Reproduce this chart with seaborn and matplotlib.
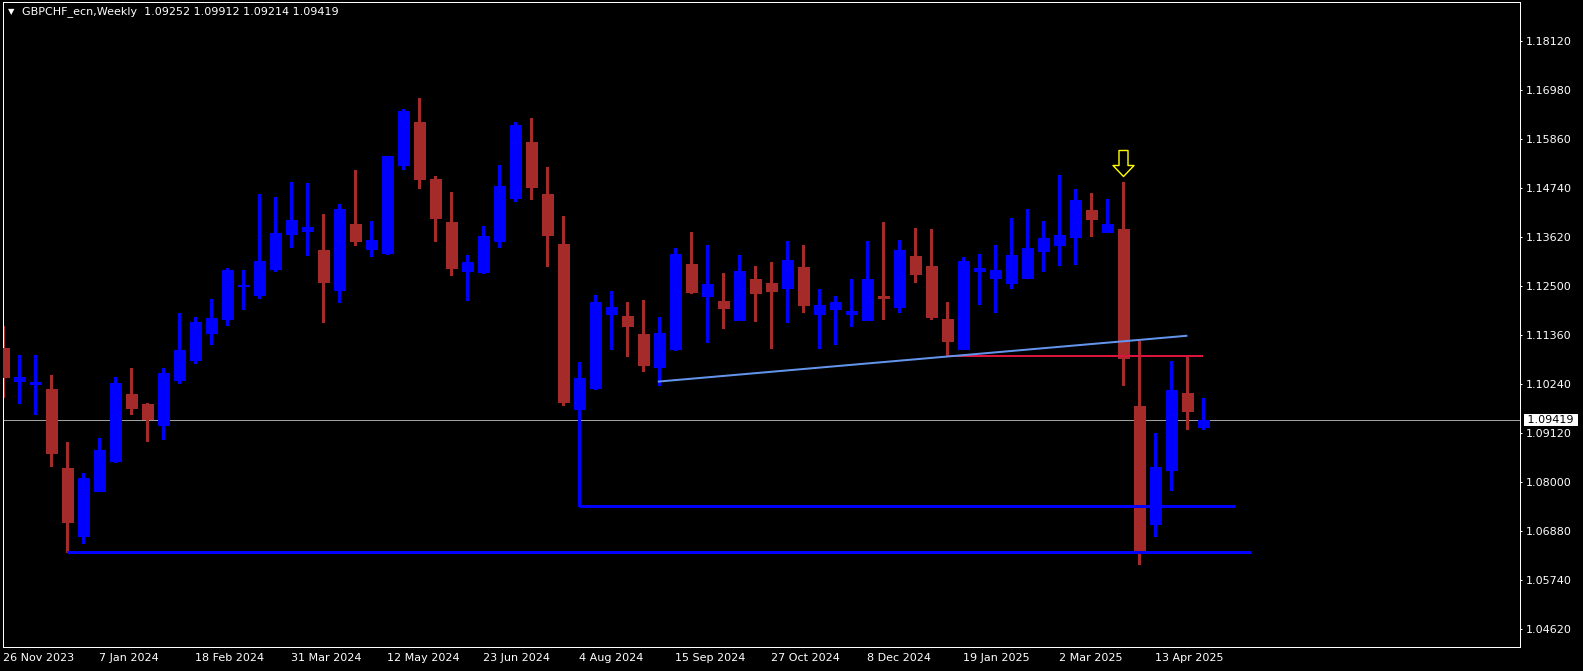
import matplotlib
matplotlib.use('Agg')
import matplotlib.pyplot as plt
from matplotlib.path import Path
import seaborn as sns

# weekly GBPCHF candles, 26 Nov 2023 .. 4 May 2025
symbol = 'GBPCHF_ecn,Weekly'
opens = [1.11070, 1.10320, 1.10251, 1.10130, 1.08317, 1.06764, 1.07790, 1.08478, 1.10015, 1.09786,
         1.09304, 1.10343, 1.10802, 1.11414, 1.11735, 1.12504, 1.12286, 1.12883, 1.13685, 1.13754,
         1.13318, 1.12401, 1.13915, 1.13341, 1.13250, 1.15268, 1.16255, 1.14947, 1.13961, 1.12837,
         1.12814, 1.13525, 1.14518, 1.15796, 1.14603, 1.13456, 1.09671, 1.10153, 1.11850, 1.11804,
         1.11391, 1.10634, 1.11047, 1.12997, 1.12263, 1.12149, 1.11713, 1.12653, 1.12561, 1.12447,
         1.12928, 1.11850, 1.11965, 1.11850, 1.11713, 1.12263, 1.12011, 1.13181, 1.12951, 1.11735,
         1.11047, 1.12837, 1.12676, 1.12561, 1.12676, 1.13296, 1.13433, 1.13617, 1.14236, 1.13731,
         1.13800, 1.09740, 1.07040, 1.08278, 1.10038, 1.09252]
highs = [1.11575, 1.10910, 1.10910, 1.10451, 1.08907, 1.08203, 1.09006, 1.10405, 1.10611, 1.09809,
         1.10611, 1.11873, 1.11781, 1.12194, 1.12905, 1.12860, 1.14603, 1.14534, 1.14878, 1.14855,
         1.14144, 1.14374, 1.15154, 1.13984, 1.15480, 1.16553, 1.16806, 1.15016, 1.14649, 1.13204,
         1.13869, 1.15268, 1.16255, 1.16347, 1.15223, 1.14098, 1.10749, 1.12286, 1.12378, 1.12126,
         1.12171, 1.11781, 1.13364, 1.13731, 1.13433, 1.12791, 1.13204, 1.12951, 1.13043, 1.13525,
         1.13433, 1.12424, 1.12263, 1.12653, 1.13525, 1.13961, 1.13548, 1.13823, 1.13800, 1.12126,
         1.13158, 1.13227, 1.13433, 1.14053, 1.14259, 1.13984, 1.15039, 1.14718, 1.14626, 1.14488,
         1.14878, 1.11231, 1.09120, 1.10772, 1.10887, 1.09912]
lows = [1.09953, 1.09815, 1.09563, 1.08370, 1.06383, 1.06597, 1.07780, 1.08455, 1.09563, 1.08944,
        1.08990, 1.10267, 1.10733, 1.11169, 1.11598, 1.11965, 1.12217, 1.12837, 1.13387, 1.13204,
        1.11667, 1.12126, 1.13433, 1.13181, 1.13227, 1.15177, 1.14741, 1.13525, 1.12745, 1.12171,
        1.12791, 1.13387, 1.14449, 1.14488, 1.12951, 1.09763, 1.07439, 1.10130, 1.11047, 1.10887,
        1.10543, 1.10221, 1.11024, 1.12332, 1.11208, 1.11529, 1.11705, 1.11690, 1.11070, 1.11667,
        1.11896, 1.11070, 1.11162, 1.11575, 1.11705, 1.11735, 1.11896, 1.12584, 1.11735, 1.10887,
        1.11040, 1.12080, 1.11896, 1.12447, 1.12670, 1.12837, 1.12974, 1.12997, 1.13640, 1.13725,
        1.10221, 1.06115, 1.06757, 1.07813, 1.09212, 1.09214]
closes = [1.10412, 1.10398, 1.10290, 1.08668, 1.07085, 1.08088, 1.08730, 1.10267, 1.09701, 1.09441,
          1.10497, 1.11024, 1.11667, 1.11758, 1.12860, 1.12515, 1.13066, 1.13708, 1.14007, 1.13846,
          1.12584, 1.14259, 1.13525, 1.13548, 1.15475, 1.16507, 1.14947, 1.14053, 1.12905, 1.13043,
          1.13640, 1.14787, 1.16186, 1.14764, 1.13663, 1.09831, 1.10382, 1.12126, 1.12011, 1.11575,
          1.10680, 1.11414, 1.13227, 1.12355, 1.12538, 1.11988, 1.12837, 1.12332, 1.12378, 1.13089,
          1.12057, 1.12057, 1.12126, 1.11919, 1.12653, 1.12217, 1.13318, 1.12768, 1.11781, 1.11231,
          1.13066, 1.12905, 1.12860, 1.13204, 1.13364, 1.13594, 1.13663, 1.14465, 1.14030, 1.13915,
          1.10841, 1.06436, 1.08340, 1.10107, 1.09632, 1.09419]

date_labels = ['26 Nov 2023', '7 Jan 2024', '18 Feb 2024', '31 Mar 2024', '12 May 2024',
               '23 Jun 2024', '4 Aug 2024', '15 Sep 2024', '27 Oct 2024', '8 Dec 2024',
               '19 Jan 2025', '2 Mar 2025', '13 Apr 2025']
price_ticks = [1.18120, 1.16980, 1.15860, 1.14740, 1.13620, 1.12500, 1.11360,
               1.10240, 1.09120, 1.08000, 1.06880, 1.05740, 1.04620]

# drawn objects: horizontal levels (start bar, end bar) and the rising trendline
level_bars = [4, 36]
level_ends = [78, 77]
resist_bar = 59
resist_end = 75
trend_x = [40.9, 74.0]
trend_y = [1.10299, 1.11352]
signal_bar = 70

BULL = '#0000FF'
BEAR = '#A52A2A'
PX = 0.72  # one pixel in points at dpi 100


def draw_candles(ax):
    n = len(opens)
    xs = list(range(n))
    colors = [BULL if c >= o else BEAR for o, c in zip(opens, closes)]
    ax.vlines(xs, lows, highs, colors=colors, linewidth=1.1 * PX, zorder=2,
              antialiased=False)
    bottoms = [min(o, c) for o, c in zip(opens, closes)]
    heights = [abs(c - o) for o, c in zip(opens, closes)]
    ax.bar(xs, heights, bottom=bottoms, width=0.64, color=colors,
           edgecolor=colors, linewidth=0.6, zorder=3, antialiased=False)


def draw_objects(ax):
    # current price line
    ax.axhline(closes[-1], color='#A0A0A0', linewidth=PX, zorder=1)
    for b, e in zip(level_bars, level_ends):
        sns.lineplot(x=[b, e], y=[lows[b], lows[b]], color=BULL,
                     linewidth=3 * PX, ax=ax, zorder=5, solid_capstyle='butt')
    sns.lineplot(x=[resist_bar, resist_end], y=[lows[resist_bar]] * 2, color='#DC143C',
                 linewidth=2 * PX, ax=ax, zorder=5, solid_capstyle='butt')
    sns.lineplot(x=trend_x, y=trend_y, color='#6495ED', linewidth=2 * PX,
                 ax=ax, zorder=5, solid_capstyle='butt')

    # hollow down arrow above the signal bar (units = pixels, origin = bar high)
    verts = [(0, 6), (10.5, 17), (4.5, 17), (4.5, 32), (-4.5, 32),
             (-4.5, 17), (-10.5, 17), (0, 6)]
    arrow = Path(verts, closed=True)
    ax.plot([signal_bar], [highs[signal_bar]], marker=arrow, markersize=64 * PX,
            markerfacecolor='black', markeredgecolor='#FFFF00',
            markeredgewidth=1.4 * PX, linestyle='none', zorder=6)


def main():
    sns.set_style('dark', rc={'axes.facecolor': 'black', 'figure.facecolor': 'black'})
    plt.rcParams['font.family'] = ['DejaVu Sans']

    fig = plt.figure(figsize=(15.83, 6.71), dpi=100)
    ax = fig.add_axes([2.5 / 1583, 24 / 671, 1517.2 / 1583, 645 / 671])
    ax.set_facecolor('black')

    draw_candles(ax)
    draw_objects(ax)

    ax.set_xlim(-0.056, 94.77)
    ax.set_ylim(1.04211, 1.19008)

    for side in ax.spines.values():
        side.set_visible(True)
        side.set_color('white')
        side.set_linewidth(PX)

    ax.grid(False)
    ax.set_xticks(range(0, 6 * len(date_labels), 6))
    ax.set_xticklabels(date_labels, ha='left')
    ax.set_yticks(price_ticks)
    ax.set_yticklabels([f'{p:.5f}' for p in price_ticks])
    ax.yaxis.tick_right()
    ax.tick_params(axis='x', colors='white', length=3 * PX, width=PX, pad=2, labelsize=8)
    ax.tick_params(axis='y', colors='white', length=2.5 * PX, width=PX, pad=2.7, labelsize=8)
    ax.set_xlabel('')
    ax.set_ylabel('')

    # current price tag
    ax.annotate(f' {closes[-1]:.5f} ', xy=(1, closes[-1]), xycoords=('axes fraction', 'data'),
                xytext=(3.3, 0), textcoords='offset points', ha='left', va='center',
                fontsize=8, color='black', annotation_clip=False,
                bbox=dict(boxstyle='square,pad=0.05', fc='white', ec='none'))

    # header line
    fig.text(11 / 1583, 1 - 12 / 671, '\u25bc', color='white', fontsize=6,
             ha='center', va='center')
    header = f'{symbol}  ' + ' '.join(f'{v:.5f}' for v in
                                      (opens[-1], highs[-1], lows[-1], closes[-1]))
    fig.text(21.7 / 1583, 1 - 12 / 671, header, color='white', fontsize=8,
             ha='left', va='center')

    fig.savefig('out.png', dpi=100, facecolor='black')


if __name__ == '__main__':
    main()
